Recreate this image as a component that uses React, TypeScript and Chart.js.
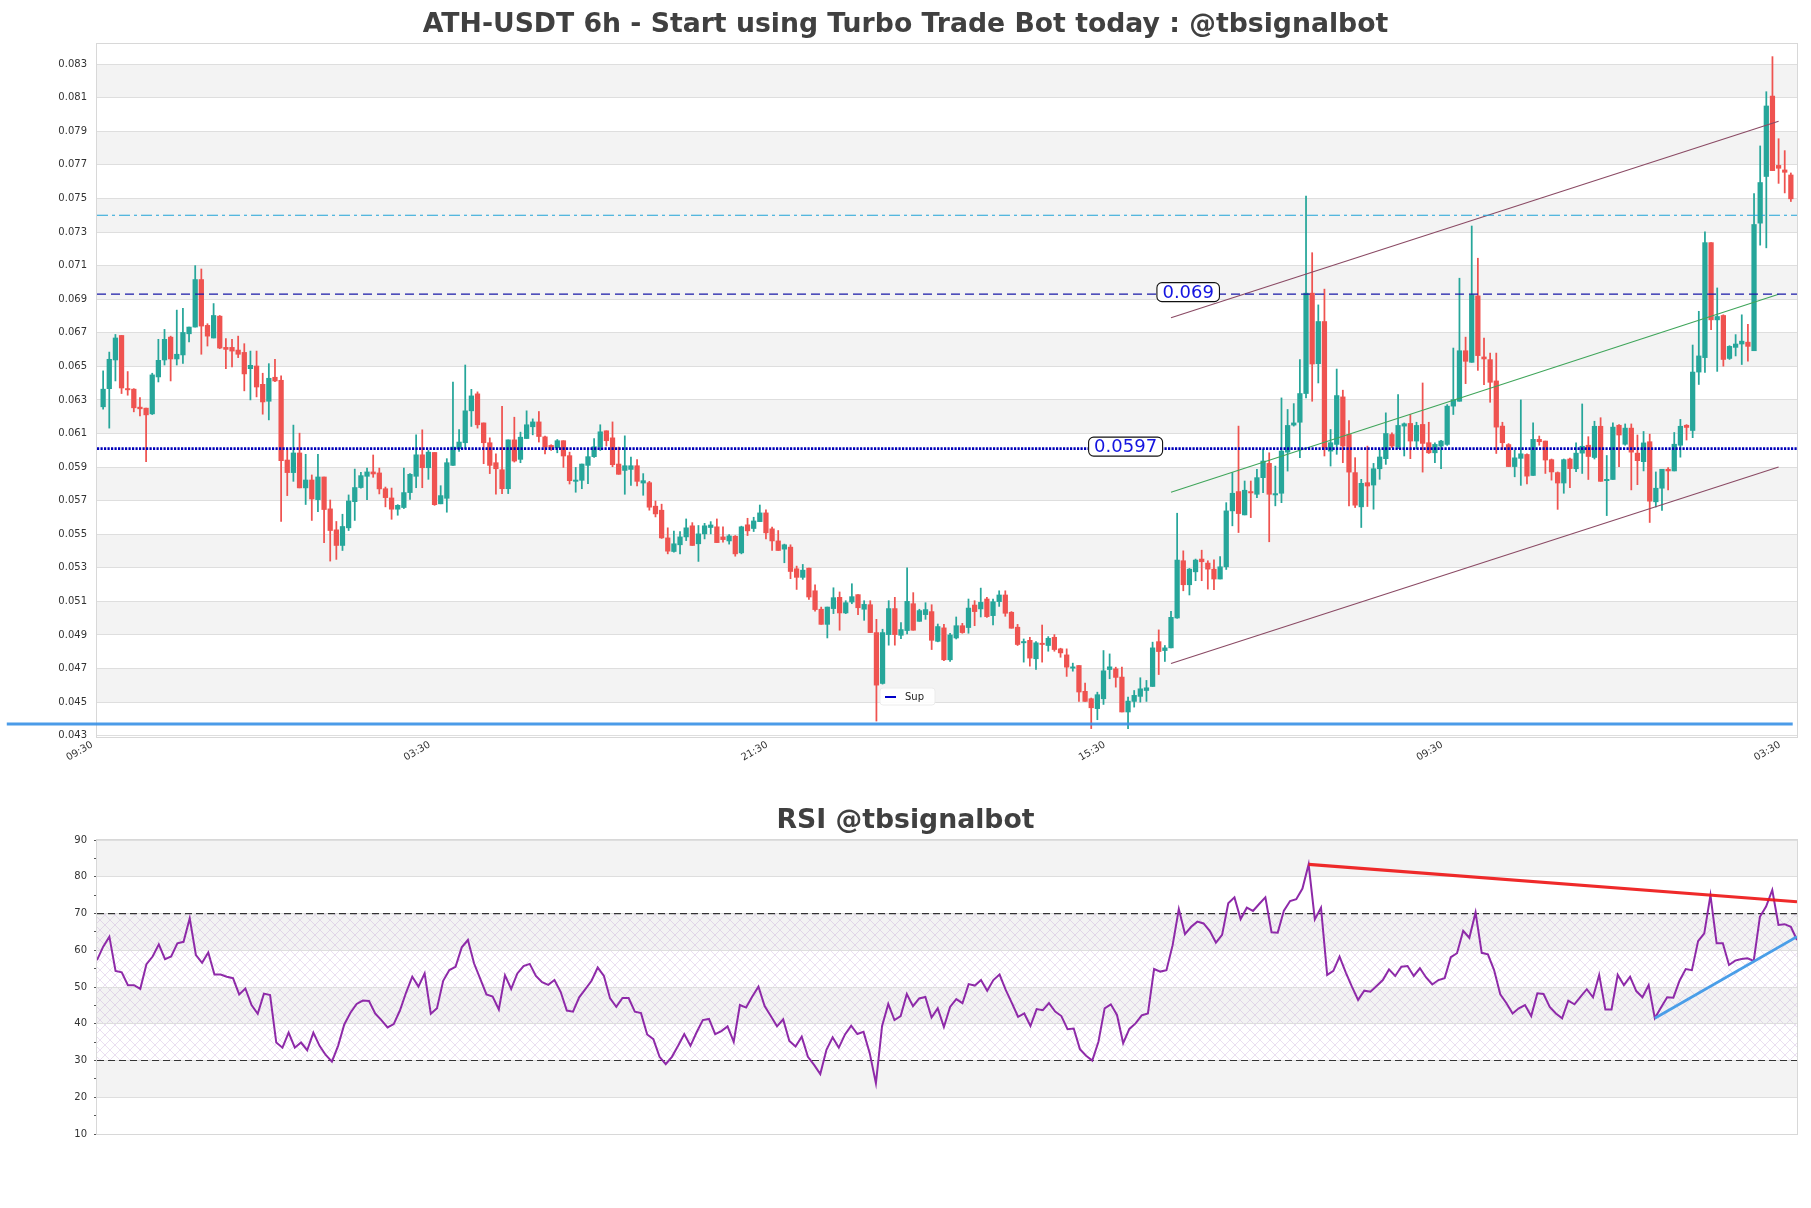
import React, { useEffect, useRef } from 'react';
import { Chart, registerables } from 'chart.js';

Chart.register(...registerables);

const FONT = 'DejaVu Sans';

const TITLE = 'ATH-USDT 6h - Start using Turbo Trade Bot today : @tbsignalbot';
const RSI_TITLE = 'RSI @tbsignalbot';

const X_TICK_INDEX = [0, 55, 110, 165, 220, 275];
const X_TICK_LABELS = ['09:30', '03:30', '21:30', '15:30', '09:30', '03:30'];

const Y_TICKS = [0.043, 0.045, 0.047, 0.049, 0.051, 0.053, 0.055, 0.057, 0.059, 0.061, 0.063, 0.065, 0.067, 0.069, 0.071, 0.073, 0.075, 0.077, 0.079, 0.081, 0.083];
const MAIN_BANDS = [[0.045, 0.047], [0.049, 0.051], [0.053, 0.055], [0.057, 0.059], [0.061, 0.063], [0.065, 0.067], [0.069, 0.071], [0.073, 0.075], [0.077, 0.079], [0.081, 0.083]];

const RSI_TICKS = [10, 15, 20, 25, 30, 35, 40, 45, 50, 55, 60, 65, 70, 75, 80, 85, 90];
const RSI_BANDS = [[80, 90], [60, 70], [40, 50], [20, 30]];
const RSI_HATCH = [30, 70];

const OPEN = [
0.06259,0.06367,0.06538,0.06684,0.06367,0.06364,0.06257,0.06251,0.06217,0.06437,
0.06538,0.06674,0.06544,0.06568,0.06694,0.06734,0.07017,0.06744,0.06669,0.06799,
0.06613,0.06613,0.06597,0.06583,0.06486,0.06502,0.06393,0.06292,0.06435,0.06417,
0.05942,0.05867,0.05984,0.05776,0.05823,0.05706,0.05841,0.05651,0.05526,0.05433,
0.05538,0.05694,0.05778,0.05845,0.05871,0.05865,0.05771,0.05716,0.05649,0.05659,
0.05748,0.05845,0.05973,0.05896,0.05987,0.05681,0.05714,0.05910,0.06009,0.06045,
0.06235,0.06336,0.06163,0.06045,0.05926,0.05884,0.05771,0.06062,0.05946,0.06070,
0.06140,0.06169,0.06080,0.06029,0.06015,0.06057,0.05968,0.05815,0.05821,0.05910,
0.05962,0.06021,0.06116,0.06074,0.05918,0.05880,0.05886,0.05908,0.05805,0.05807,
0.05667,0.05643,0.05478,0.05397,0.05437,0.05484,0.05550,0.05443,0.05502,0.05540,
0.05544,0.05484,0.05460,0.05488,0.05389,0.05556,0.05534,0.05575,0.05627,0.05532,
0.05460,0.05411,0.05423,0.05294,0.05243,0.05298,0.05163,0.05053,0.04963,0.05057,
0.05124,0.05031,0.05096,0.05140,0.05053,0.05080,0.04914,0.04611,0.04902,0.05057,
0.04898,0.04926,0.05086,0.04981,0.05021,0.05039,0.04862,0.04942,0.04752,0.04882,
0.04955,0.04944,0.05078,0.05055,0.05114,0.05015,0.05098,0.05138,0.05035,0.04946,
0.04853,0.04868,0.04758,0.04847,0.04837,0.04886,0.04817,0.04781,0.04702,0.04718,
0.04564,0.04520,0.04461,0.04520,0.04694,0.04698,0.04649,0.04441,0.04504,0.04534,
0.04569,0.04593,0.04860,0.04807,0.04823,0.05001,0.05342,0.05199,0.05276,0.05352,
0.05328,0.05292,0.05233,0.05306,0.05639,0.05754,0.05615,0.05754,0.05738,0.05837,
0.05922,0.05734,0.05744,0.05989,0.06150,0.06167,0.06338,0.06936,0.06516,0.06767,
0.05995,0.06035,0.06318,0.06094,0.05867,0.05663,0.05807,0.05793,0.05890,0.05950,
0.06094,0.06021,0.06144,0.06160,0.06055,0.06154,0.06045,0.05985,0.06025,0.06035,
0.06263,0.06292,0.06593,0.06524,0.06920,0.06556,0.06540,0.06413,0.06144,0.06034,
0.05903,0.05952,0.05975,0.05850,0.06065,0.06055,0.05944,0.05867,0.05805,0.05948,
0.05890,0.05983,0.06030,0.05957,0.06143,0.05819,0.05826,0.06149,0.06036,0.06132,
0.05983,0.05932,0.06051,0.05693,0.05774,0.05887,0.05877,0.06030,0.06149,0.06118,
0.06466,0.06552,0.07237,0.06777,0.06803,0.06547,0.06613,0.06633,0.06644,0.06593,
0.07353,0.07631,0.08110,0.07697,0.07670,0.07640
];

const HIGH = [
0.06473,0.06585,0.06690,0.06684,0.06469,0.06367,0.06314,0.06251,0.06459,0.06661,
0.06720,0.06680,0.06835,0.06845,0.06734,0.07100,0.07080,0.06754,0.06874,0.06803,
0.06665,0.06661,0.06680,0.06635,0.06591,0.06591,0.06459,0.06516,0.06542,0.06443,
0.06007,0.06150,0.06102,0.05976,0.05853,0.05976,0.05841,0.05704,0.05576,0.05619,
0.05734,0.05888,0.05869,0.05894,0.05972,0.05894,0.05781,0.05775,0.05676,0.05894,
0.05861,0.06092,0.06122,0.05999,0.05987,0.05789,0.05950,0.06407,0.06124,0.06508,
0.06363,0.06348,0.06163,0.06074,0.05979,0.06262,0.06062,0.06197,0.06108,0.06235,
0.06187,0.06231,0.06084,0.06033,0.06064,0.06057,0.05989,0.05898,0.05918,0.06009,
0.06070,0.06152,0.06116,0.06169,0.06019,0.06086,0.05960,0.05944,0.05861,0.05815,
0.05698,0.05679,0.05538,0.05518,0.05516,0.05591,0.05569,0.05552,0.05565,0.05575,
0.05591,0.05544,0.05498,0.05492,0.05548,0.05595,0.05601,0.05674,0.05646,0.05542,
0.05522,0.05441,0.05437,0.05310,0.05320,0.05298,0.05199,0.05066,0.05066,0.05181,
0.05156,0.05104,0.05205,0.05140,0.05104,0.05104,0.04993,0.04934,0.05104,0.05124,
0.04973,0.05300,0.05152,0.05053,0.05092,0.05080,0.04965,0.04963,0.04910,0.05007,
0.04969,0.05114,0.05104,0.05179,0.05124,0.05114,0.05163,0.05163,0.05039,0.04963,
0.04876,0.04886,0.04860,0.04959,0.04890,0.04902,0.04821,0.04817,0.04732,0.04718,
0.04613,0.04524,0.04559,0.04807,0.04787,0.04708,0.04708,0.04530,0.04569,0.04645,
0.04629,0.04857,0.04930,0.04837,0.05041,0.05625,0.05401,0.05296,0.05352,0.05405,
0.05342,0.05348,0.05367,0.05688,0.05867,0.06144,0.05817,0.05817,0.05886,0.06005,
0.05985,0.05906,0.06312,0.06243,0.06278,0.06540,0.07514,0.07177,0.06866,0.06960,
0.06124,0.06484,0.06358,0.06177,0.05956,0.05827,0.06025,0.05922,0.06005,0.06223,
0.06104,0.06332,0.06163,0.06213,0.06167,0.06401,0.06167,0.06045,0.06059,0.06272,
0.06609,0.07025,0.06674,0.07336,0.07144,0.06668,0.06579,0.06579,0.06167,0.06040,
0.06000,0.06300,0.05979,0.06163,0.06085,0.06055,0.05948,0.05871,0.05948,0.05954,
0.06045,0.06276,0.06081,0.06173,0.06194,0.05969,0.06163,0.06153,0.06157,0.06157,
0.06091,0.06112,0.06096,0.05871,0.05887,0.05897,0.06106,0.06184,0.06153,0.06627,
0.06828,0.07302,0.07237,0.06967,0.06807,0.06623,0.06689,0.06807,0.06750,0.07529,
0.07813,0.08136,0.08345,0.07856,0.07785,0.07652
];

const LOW = [
0.06245,0.06132,0.06413,0.06338,0.06328,0.06229,0.06205,0.05932,0.06213,0.06407,
0.06508,0.06413,0.06508,0.06518,0.06645,0.06734,0.06572,0.06621,0.06669,0.06605,
0.06486,0.06496,0.06552,0.06354,0.06300,0.06318,0.06215,0.06181,0.06409,0.05576,
0.05730,0.05815,0.05776,0.05677,0.05582,0.05635,0.05449,0.05340,0.05350,0.05403,
0.05522,0.05582,0.05774,0.05706,0.05839,0.05740,0.05663,0.05589,0.05613,0.05653,
0.05708,0.05777,0.05777,0.05827,0.05672,0.05681,0.05631,0.05910,0.05993,0.06009,
0.06142,0.06132,0.05920,0.05861,0.05738,0.05742,0.05742,0.05930,0.05926,0.06070,
0.06092,0.06049,0.05979,0.05999,0.05985,0.05898,0.05799,0.05750,0.05771,0.05801,
0.05958,0.05999,0.06025,0.05902,0.05857,0.05738,0.05791,0.05787,0.05732,0.05643,
0.05603,0.05475,0.05383,0.05393,0.05383,0.05462,0.05433,0.05338,0.05472,0.05502,
0.05450,0.05452,0.05441,0.05369,0.05383,0.05492,0.05516,0.05575,0.05472,0.05403,
0.05403,0.05330,0.05235,0.05171,0.05231,0.05112,0.05041,0.04963,0.04882,0.05027,
0.04928,0.05027,0.05086,0.05021,0.04987,0.04914,0.04387,0.04607,0.04839,0.04839,
0.04878,0.04906,0.04928,0.04981,0.04993,0.04813,0.04859,0.04746,0.04742,0.04876,
0.04910,0.04910,0.04955,0.05007,0.05005,0.04959,0.05070,0.05011,0.04940,0.04837,
0.04738,0.04714,0.04694,0.04738,0.04803,0.04803,0.04767,0.04653,0.04684,0.04504,
0.04504,0.04342,0.04395,0.04486,0.04639,0.04589,0.04441,0.04342,0.04470,0.04500,
0.04504,0.04593,0.04664,0.04742,0.04823,0.04999,0.05163,0.05138,0.05223,0.05223,
0.05173,0.05169,0.05233,0.05290,0.05550,0.05510,0.05615,0.05599,0.05718,0.05748,
0.05455,0.05669,0.05688,0.05876,0.06144,0.05956,0.06312,0.06292,0.06401,0.05966,
0.05906,0.05976,0.05926,0.05669,0.05659,0.05540,0.05665,0.05649,0.05827,0.05916,
0.06015,0.06009,0.05966,0.05950,0.06009,0.05870,0.05981,0.05926,0.05890,0.06029,
0.06213,0.06292,0.06397,0.06524,0.06476,0.06391,0.06286,0.05981,0.06005,0.05903,
0.05842,0.05791,0.05799,0.05850,0.06030,0.05862,0.05822,0.05648,0.05744,0.05778,
0.05873,0.05862,0.05826,0.05948,0.05815,0.05611,0.05826,0.05903,0.06030,0.05764,
0.05795,0.05877,0.05570,0.05662,0.05642,0.05764,0.05877,0.05959,0.06061,0.06075,
0.06392,0.06464,0.06719,0.06470,0.06501,0.06541,0.06562,0.06511,0.06531,0.06593,
0.07222,0.07206,0.07666,0.07590,0.07533,0.07482
];

const CLOSE = [
0.06364,0.06542,0.06669,0.06371,0.06360,0.06253,0.06247,0.06211,0.06449,0.06536,
0.06661,0.06544,0.06572,0.06702,0.06734,0.07017,0.06740,0.06680,0.06803,0.06609,
0.06601,0.06591,0.06572,0.06455,0.06506,0.06377,0.06288,0.06429,0.06413,0.05938,
0.05867,0.05984,0.05776,0.05823,0.05710,0.05841,0.05647,0.05522,0.05433,0.05546,
0.05698,0.05778,0.05849,0.05871,0.05859,0.05770,0.05718,0.05649,0.05672,0.05748,
0.05857,0.05973,0.05896,0.05989,0.05676,0.05730,0.05926,0.06019,0.06049,0.06235,
0.06324,0.06152,0.06045,0.05910,0.05890,0.05771,0.06062,0.05936,0.06078,0.06152,
0.06169,0.06082,0.06019,0.06015,0.06057,0.05966,0.05819,0.05819,0.05918,0.05962,
0.06021,0.06110,0.06057,0.05914,0.05857,0.05908,0.05908,0.05815,0.05819,0.05661,
0.05621,0.05478,0.05399,0.05443,0.05484,0.05538,0.05433,0.05502,0.05550,0.05555,
0.05450,0.05468,0.05490,0.05383,0.05544,0.05520,0.05579,0.05627,0.05508,0.05460,
0.05403,0.05437,0.05278,0.05243,0.05286,0.05126,0.05051,0.04963,0.05066,0.05122,
0.05031,0.05092,0.05128,0.05062,0.05082,0.04914,0.04601,0.04914,0.05057,0.04902,
0.04932,0.05100,0.04928,0.05045,0.05051,0.04868,0.04950,0.04752,0.04900,0.04955,
0.04914,0.05060,0.05039,0.05094,0.05009,0.05098,0.05138,0.05029,0.04940,0.04843,
0.04860,0.04762,0.04853,0.04843,0.04880,0.04813,0.04793,0.04708,0.04708,0.04560,
0.04504,0.04466,0.04544,0.04686,0.04710,0.04647,0.04441,0.04506,0.04540,0.04579,
0.04585,0.04823,0.04801,0.04823,0.05005,0.05346,0.05199,0.05292,0.05346,0.05336,
0.05292,0.05233,0.05306,0.05639,0.05744,0.05623,0.05762,0.05746,0.05837,0.05936,
0.05738,0.05742,0.05995,0.06148,0.06163,0.06338,0.06936,0.06514,0.06767,0.06015,
0.06045,0.06326,0.06025,0.05870,0.05673,0.05803,0.05787,0.05890,0.05960,0.06100,
0.06025,0.06148,0.06158,0.06055,0.06148,0.06041,0.05985,0.06035,0.06055,0.06263,
0.06302,0.06593,0.06530,0.06926,0.06564,0.06544,0.06405,0.06138,0.06045,0.05903,
0.05955,0.05979,0.05846,0.06065,0.06051,0.05942,0.05871,0.05805,0.05944,0.05891,
0.05983,0.06024,0.05963,0.06143,0.05815,0.05826,0.06138,0.06091,0.06132,0.05989,
0.05938,0.06044,0.05697,0.05774,0.05887,0.05877,0.06036,0.06143,0.06136,0.06466,
0.06562,0.07237,0.06777,0.06797,0.06541,0.06619,0.06633,0.06650,0.06619,0.07345,
0.07595,0.08051,0.07666,0.07680,0.07656,0.07498
];

const RSI = [
57.3,61.0,63.7,54.4,54.0,50.5,50.5,49.5,56.2,58.3,
61.6,57.6,58.3,61.9,62.3,68.7,58.7,56.6,59.4,53.4,
53.4,52.8,52.4,48.0,49.6,45.1,42.7,48.2,47.8,34.9,
33.5,37.6,33.5,34.9,32.8,37.6,34.0,31.5,29.7,34.0,
39.8,43.0,45.4,46.3,46.2,42.8,41.0,39.0,39.9,43.6,
48.5,52.8,50.1,53.7,42.7,44.2,51.7,54.6,55.5,60.8,
62.8,56.4,52.2,48.0,47.4,43.9,53.2,49.5,53.7,55.7,
56.3,53.0,51.3,50.6,51.9,48.7,43.6,43.3,47.2,49.4,
51.7,55.3,53.0,46.9,44.6,47.0,47.0,43.3,42.9,37.1,
35.8,31.0,29.0,31.0,34.0,37.2,34.0,37.7,41.0,41.3,
37.2,38.0,39.3,35.1,45.1,44.4,47.4,50.1,44.8,42.1,
39.3,41.2,35.3,33.8,36.5,31.0,28.8,26.3,32.9,36.3,
33.5,37.1,39.5,37.2,37.8,32.0,23.8,39.4,45.4,41.0,
42.1,48.1,44.8,46.9,47.3,41.7,44.2,39.1,44.6,46.7,
45.6,50.8,50.4,51.9,49.0,51.9,53.4,49.2,45.6,41.9,
42.8,39.4,44.0,43.7,45.6,43.3,42.1,38.5,38.7,33.1,
31.3,30.0,35.1,44.2,45.3,42.4,34.7,38.6,40.1,42.3,
42.8,54.9,54.2,54.6,61.4,71.2,64.4,66.4,67.8,67.3,
65.3,62.1,64.2,72.8,74.4,68.5,71.6,70.7,72.6,74.4,
64.9,64.8,70.8,73.4,73.9,76.8,83.4,68.4,71.6,53.3,
54.4,58.3,54.0,50.1,46.5,49.0,48.7,50.3,51.9,54.8,
53.0,55.5,55.7,53.0,55.1,52.6,50.7,51.9,52.4,58.1,
59.2,65.3,63.4,70.3,59.3,58.9,54.6,48.0,45.6,42.8,
44.2,45.1,42.1,48.3,48.1,44.6,42.8,41.5,46.3,45.3,
47.4,49.4,47.2,53.3,43.9,43.9,53.3,50.5,52.8,48.9,
47.2,50.5,41.5,44.4,47.2,47.1,51.7,54.9,54.6,62.5,
64.6,75.0,61.9,61.9,56.0,57.2,57.6,57.8,57.1,69.1,
71.9,76.4,66.9,67.1,66.4,62.8
];

// horizontal levels on the price chart
const LEVEL_CYAN = 0.0740;
const LEVEL_069 = 0.0693;
const LEVEL_0597 = 0.0601;
const SUP_LEVEL = 0.0437;
const SUP_X = [-15.7, 275.3];

// price channel (index, value)
const CHANNEL_X = [174, 273];
const CHANNEL_UPPER = [0.0679, 0.0796];
const CHANNEL_MID = [0.0575, 0.0693];
const CHANNEL_LOWER = [0.0473, 0.0590];

// tag labels
const TAG_TEXT = ['0.069', '0.0597'];
const TAG_X = [176.8, 166.6];
const TAG_Y = [LEVEL_069, LEVEL_0597];

// RSI trend lines
const RSI_RES_X = [196, 275];
const RSI_RES_Y = [83.4, 73.2];
const RSI_SUP_X = [252, 275];
const RSI_SUP_Y = [41.5, 63.7];

const GREEN = '#26a69a';
const RED = '#ef5350';

function seg(xs: number[], ys: number[]) {
  return xs.map((x, i) => ({ x, y: ys[i] }));
}

function lineDs(label: string, data: any[], color: string, width: number, dash: number[], order: number, extra: any = {}) {
  return {
    type: 'line',
    label,
    data,
    borderColor: color,
    borderWidth: width,
    borderDash: dash,
    pointRadius: 0,
    pointHoverRadius: 0,
    fill: false,
    tension: 0,
    order,
    ...extra,
  };
}

function drawTag(ctx: CanvasRenderingContext2D, text: string, cx: number, cy: number) {
  ctx.save();
  ctx.font = `18px "${FONT}"`;
  const w = ctx.measureText(text).width + 11;
  const h = 19;
  const x = cx - w / 2;
  const y = cy - h / 2;
  ctx.beginPath();
  (ctx as any).roundRect(x, y, w, h, 5);
  ctx.fillStyle = '#ffffff';
  ctx.fill();
  ctx.strokeStyle = '#111111';
  ctx.lineWidth = 1.1;
  ctx.stroke();
  ctx.fillStyle = '#1414e0';
  ctx.textAlign = 'center';
  ctx.textBaseline = 'middle';
  ctx.fillText(text, cx, cy + 1);
  ctx.restore();
}

function drawBox(chart: any) {
  const { ctx, chartArea: a } = chart;
  ctx.save();
  ctx.strokeStyle = '#d8d8d8';
  ctx.lineWidth = 1;
  ctx.strokeRect(Math.round(a.left) - 0.5, Math.round(a.top) - 0.5, Math.round(a.right - a.left) + 1, Math.round(a.bottom - a.top) + 1);
  ctx.restore();
}

const mainDecor = {
  id: 'mainDecor',
  beforeDraw(chart: any) {
    const { ctx, chartArea: a, scales } = chart;
    const y = scales.y;
    ctx.save();
    ctx.fillStyle = '#f3f3f3';
    for (const [lo, hi] of MAIN_BANDS) {
      const y1 = y.getPixelForValue(hi);
      const y2 = y.getPixelForValue(lo);
      ctx.fillRect(a.left, y1, a.right - a.left, y2 - y1);
    }
    ctx.restore();
  },
  beforeDatasetsDraw(chart: any) {
    drawBox(chart);
  },
  afterDatasetsDraw(chart: any) {
    const { ctx, chartArea: a, scales } = chart;
    for (let k = 0; k < TAG_TEXT.length; k++) {
      drawTag(ctx, TAG_TEXT[k], scales.x.getPixelForValue(TAG_X[k]), scales.y.getPixelForValue(TAG_Y[k]) - 2);
    }
    // legend
    const lx = a.left + 783;
    const ly = a.bottom - 49;
    ctx.save();
    ctx.beginPath();
    ctx.roundRect(lx, ly, 55, 17, 3);
    ctx.fillStyle = 'rgba(255,255,255,0.9)';
    ctx.fill();
    ctx.strokeStyle = '#ececec';
    ctx.lineWidth = 1;
    ctx.stroke();
    ctx.beginPath();
    ctx.moveTo(lx + 5, ly + 9);
    ctx.lineTo(lx + 16, ly + 9);
    ctx.strokeStyle = '#0000c8';
    ctx.lineWidth = 2;
    ctx.stroke();
    ctx.fillStyle = '#222';
    ctx.font = `10px "${FONT}"`;
    ctx.textBaseline = 'middle';
    ctx.textAlign = 'left';
    ctx.fillText('Sup', lx + 25, ly + 9);
    ctx.restore();
  },
};

function makeHatch(ctx: CanvasRenderingContext2D) {
  const c = document.createElement('canvas');
  c.width = 10;
  c.height = 10;
  const g = c.getContext('2d')!;
  g.strokeStyle = 'rgba(180,140,205,0.4)';
  g.lineWidth = 0.7;
  g.beginPath();
  g.moveTo(0, 0);
  g.lineTo(10, 10);
  g.moveTo(10, 0);
  g.lineTo(0, 10);
  g.stroke();
  return ctx.createPattern(c, 'repeat');
}

const rsiDecor = {
  id: 'rsiDecor',
  beforeDraw(chart: any) {
    const { ctx, chartArea: a, scales } = chart;
    const y = scales.y;
    ctx.save();
    ctx.fillStyle = '#f3f3f3';
    for (const [lo, hi] of RSI_BANDS) {
      const y1 = y.getPixelForValue(hi);
      const y2 = y.getPixelForValue(lo);
      ctx.fillRect(a.left, y1, a.right - a.left, y2 - y1);
    }
    const pat = makeHatch(ctx);
    if (pat) {
      ctx.fillStyle = pat;
      const y1 = y.getPixelForValue(RSI_HATCH[1]);
      const y2 = y.getPixelForValue(RSI_HATCH[0]);
      ctx.fillRect(a.left, y1, a.right - a.left, y2 - y1);
    }
    ctx.restore();
  },
  beforeDatasetsDraw(chart: any) {
    drawBox(chart);
  },
};

function mainConfig(): any {
  const idx = OPEN.map((_, i) => i);
  const colors = idx.map((i) => (CLOSE[i] >= OPEN[i] ? GREEN : RED));
  return {
    type: 'bar',
    data: {
      datasets: [
        {
          type: 'bar',
          label: 'wick',
          data: idx.map((i) => ({ x: i, y: [LOW[i], HIGH[i]] })),
          backgroundColor: colors,
          borderWidth: 0,
          barThickness: 1.1,
          minBarLength: 1,
          grouped: false,
          order: 6,
        },
        {
          type: 'bar',
          label: 'body',
          data: idx.map((i) => ({ x: i, y: [OPEN[i], CLOSE[i]] })),
          backgroundColor: colors,
          borderWidth: 0,
          barThickness: 4.6,
          minBarLength: 1.3,
          grouped: false,
          order: 5,
        },
        lineDs('upper', seg(CHANNEL_X, CHANNEL_UPPER), '#8a4a64', 1.1, [], 3),
        lineDs('lower', seg(CHANNEL_X, CHANNEL_LOWER), '#8a4a64', 1.1, [], 3),
        lineDs('mid', seg(CHANNEL_X, CHANNEL_MID), '#3fa55a', 1.1, [], 3),
        lineDs('cyan', seg([-1, 276], [LEVEL_CYAN, LEVEL_CYAN]), '#20a4d8', 1.2, [11, 4, 3, 4], 2),
        lineDs('r069', seg([-1, 276], [LEVEL_069, LEVEL_069]), '#1a1aa8', 1.4, [9, 5], 2),
        lineDs('r0597', seg([-1, 276], [LEVEL_0597, LEVEL_0597]), '#0000b8', 2.6, [2.2, 1.3], 2),
        lineDs('Sup', seg(SUP_X, [SUP_LEVEL, SUP_LEVEL]), 'rgba(60,146,230,0.92)', 3, [], 1, { clip: false }),
      ],
    },
    options: {
      animation: false,
      responsive: false,
      maintainAspectRatio: false,
      devicePixelRatio: 1,
      events: [],
      layout: { padding: { left: 14, right: 14, top: 0, bottom: 0 } },
      plugins: {
        legend: { display: false },
        tooltip: { enabled: false },
        title: {
          display: true,
          text: TITLE,
          color: '#404040',
          font: { family: FONT, size: 26.7, weight: 'bold', lineHeight: 1.2 },
          padding: { top: 9, bottom: 3 },
        },
      },
      scales: {
        x: {
          type: 'linear',
          min: -1,
          max: 276,
          offset: false,
          grid: { display: false, offset: false },
          border: { display: false },
          afterBuildTicks: (s: any) => {
            s.ticks = X_TICK_INDEX.map((v) => ({ value: v }));
          },
          afterFit: (s: any) => {
            s.height = 53;
          },
          ticks: {
            autoSkip: false,
            minRotation: 30,
            maxRotation: 30,
            padding: -6,
            labelOffset: -11,
            color: '#333',
            font: { family: FONT, size: 10 },
            callback: (_v: any, i: number) => X_TICK_LABELS[i],
          },
        },
        y: {
          type: 'linear',
          position: 'left',
          min: 0.04292,
          max: 0.0842,
          beginAtZero: false,
          afterBuildTicks: (s: any) => {
            s.ticks = Y_TICKS.map((v) => ({ value: v }));
          },
          afterFit: (s: any) => {
            s.width = 83;
          },
          grid: { color: '#dedede', drawTicks: false },
          border: { display: false },
          ticks: {
            padding: 10,
            color: '#333',
            font: { family: FONT, size: 10 },
            callback: (v: any) => Number(v).toFixed(3),
          },
        },
      },
    },
    plugins: [mainDecor],
  };
}

function rsiConfig(): any {
  return {
    type: 'line',
    data: {
      datasets: [
        lineDs('RSI', RSI.map((v, i) => ({ x: i, y: v })), '#8e2aa8', 2, [], 3),
        lineDs('res', seg(RSI_RES_X, RSI_RES_Y), 'rgba(238,24,24,0.92)', 3.2, [], 1),
        lineDs('sup', seg(RSI_SUP_X, RSI_SUP_Y), '#4a9ee8', 2.8, [], 1),
        lineDs('ob', seg([0, 275], [70, 70]), '#333333', 1.2, [7, 4], 4),
        lineDs('os', seg([0, 275], [30, 30]), '#333333', 1.2, [7, 4], 4),
      ],
    },
    options: {
      animation: false,
      responsive: false,
      maintainAspectRatio: false,
      devicePixelRatio: 1,
      events: [],
      layout: { padding: { left: 14, right: 14, top: 0, bottom: 74 } },
      plugins: {
        legend: { display: false },
        tooltip: { enabled: false },
        title: {
          display: true,
          text: RSI_TITLE,
          color: '#404040',
          font: { family: FONT, size: 26.7, weight: 'bold', lineHeight: 1.2 },
          padding: { top: 15.5, bottom: 2.5 },
        },
      },
      scales: {
        x: { type: 'linear', min: 0, max: 275, display: false },
        y: {
          type: 'linear',
          position: 'left',
          min: 10,
          max: 90,
          afterBuildTicks: (s: any) => {
            s.ticks = RSI_TICKS.map((v) => ({ value: v }));
          },
          afterFit: (s: any) => {
            s.width = 83;
          },
          grid: {
            color: (c: any) => (c.tick && c.tick.value % 10 === 0 ? '#dedede' : 'rgba(0,0,0,0)'),
            tickColor: '#555',
            tickLength: 3,
            drawTicks: true,
          },
          border: { display: false },
          ticks: {
            padding: 7,
            color: '#333',
            font: { family: FONT, size: 10 },
            callback: (v: any) => (Number(v) % 10 === 0 ? String(v) : ''),
          },
        },
      },
    },
    plugins: [rsiDecor],
  };
}

export default function App() {
  const mainRef = useRef<HTMLCanvasElement>(null);
  const rsiRef = useRef<HTMLCanvasElement>(null);

  useEffect(() => {
    document.body.style.margin = '0';
    document.body.style.overflow = 'hidden';
    const c1 = new Chart(mainRef.current as HTMLCanvasElement, mainConfig());
    const c2 = new Chart(rsiRef.current as HTMLCanvasElement, rsiConfig());
    return () => {
      c1.destroy();
      c2.destroy();
    };
  }, []);

  return (
    <div style={{ position: 'relative', width: 1811, height: 1208, background: '#ffffff' }}>
      <canvas ref={mainRef} width={1811} height={790} style={{ position: 'absolute', left: 0, top: 0 }} />
      <canvas ref={rsiRef} width={1811} height={418} style={{ position: 'absolute', left: 0, top: 790 }} />
    </div>
  );
}
